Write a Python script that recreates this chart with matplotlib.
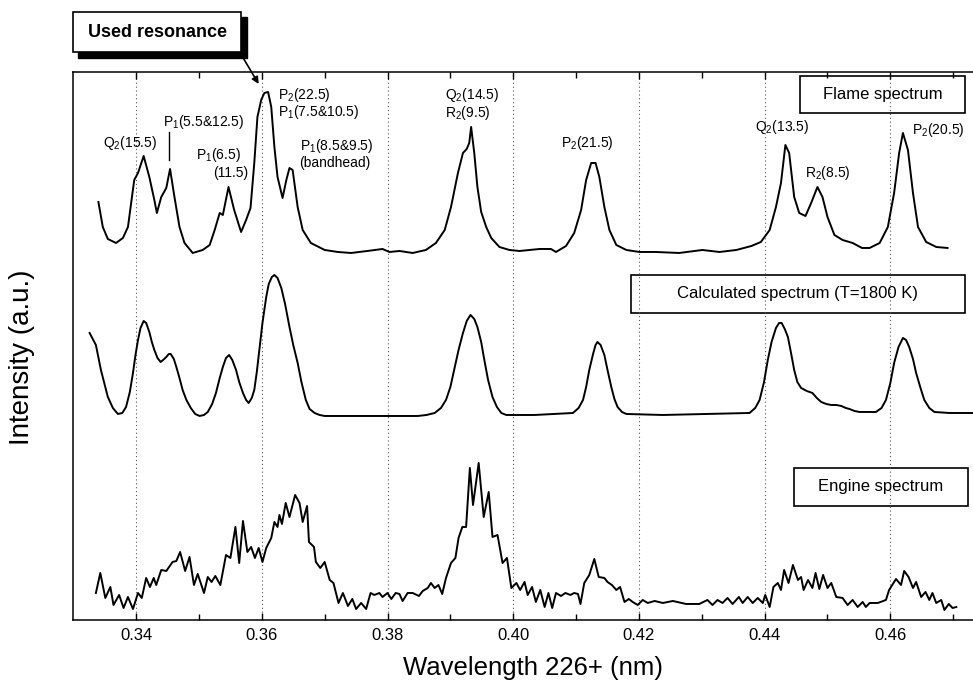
import matplotlib
matplotlib.use("Agg")
import matplotlib.pyplot as plt
import matplotlib.patches as patches

plt.rcParams['font.family'] = ['Liberation Sans', 'DejaVu Sans']
plt.rcParams['mathtext.fontset'] = 'custom'
plt.rcParams['mathtext.rm'] = 'Liberation Sans'
plt.rcParams['mathtext.it'] = 'Liberation Sans'

# Wavelength offsets (nm above 226 nm) and intensities (a.u., stacked)
flame_wl = [0.3340, 0.3347, 0.3355, 0.3368, 0.3379, 0.3387, 0.3397, 0.3403, 0.3412, 0.3421,
            0.3429, 0.3433, 0.3440, 0.3448, 0.3454, 0.3461, 0.3469, 0.3477, 0.3490, 0.3506,
            0.3517, 0.3525, 0.3533, 0.3538, 0.3547, 0.3556, 0.3567, 0.3575, 0.3582, 0.3588,
            0.3593, 0.3599, 0.3604, 0.3610, 0.3615, 0.3620, 0.3625, 0.3633, 0.3639, 0.3644,
            0.3649, 0.3657, 0.3665, 0.3678, 0.3700, 0.3721, 0.3742, 0.3768, 0.3792, 0.3803,
            0.3819, 0.3840, 0.3861, 0.3877, 0.3891, 0.3901, 0.3912, 0.3920, 0.3926, 0.3930,
            0.3933, 0.3938, 0.3943, 0.3949, 0.3957, 0.3965, 0.3978, 0.3994, 0.4010, 0.4042,
            0.4060, 0.4068, 0.4084, 0.4097, 0.4108, 0.4116, 0.4124, 0.4131, 0.4137, 0.4145,
            0.4153, 0.4164, 0.4180, 0.4201, 0.4227, 0.4264, 0.4301, 0.4328, 0.4355, 0.4379,
            0.4394, 0.4408, 0.4418, 0.4426, 0.4433, 0.4439, 0.4447, 0.4455, 0.4465, 0.4474,
            0.4484, 0.4492, 0.4500, 0.4511, 0.4524, 0.4540, 0.4555, 0.4567, 0.4583, 0.4596,
            0.4606, 0.4614, 0.4620, 0.4628, 0.4636, 0.4644, 0.4657, 0.4673, 0.4691]
flame_int = [418, 393, 381, 377, 382, 393, 440, 447, 464, 443,
             420, 407, 423, 432, 451, 423, 393, 377, 367, 370,
             375, 390, 407, 405, 433, 410, 388, 400, 412, 457,
             503, 520, 527, 528, 513, 473, 443, 422, 440, 452,
             450, 413, 390, 377, 370, 368, 367, 369, 371, 368,
             369, 367, 370, 377, 390, 413, 447, 467, 471, 477,
             493, 467, 433, 408, 393, 382, 373, 370, 369, 371,
             371, 368, 374, 387, 410, 440, 457, 457, 443, 413,
             390, 375, 370, 368, 368, 367, 370, 368, 370, 374,
             378, 390, 413, 437, 475, 467, 423, 407, 404, 417,
             433, 423, 403, 385, 380, 377, 372, 372, 377, 393,
             427, 467, 487, 470, 427, 393, 378, 373, 372]

calc_wl = [0.3326, 0.3336, 0.3344, 0.3355, 0.3363, 0.3371, 0.3378, 0.3384, 0.3390, 0.3395,
           0.3399, 0.3403, 0.3407, 0.3412, 0.3416, 0.3421, 0.3425, 0.3429, 0.3434, 0.3439,
           0.3443, 0.3448, 0.3452, 0.3455, 0.3460, 0.3464, 0.3469, 0.3474, 0.3480, 0.3487,
           0.3494, 0.3501, 0.3508, 0.3514, 0.3521, 0.3527, 0.3533, 0.3538, 0.3543, 0.3548,
           0.3553, 0.3559, 0.3564, 0.3570, 0.3575, 0.3579, 0.3584, 0.3588, 0.3592, 0.3596,
           0.3601, 0.3607, 0.3611, 0.3616, 0.3620, 0.3625, 0.3631, 0.3637, 0.3644, 0.3650,
           0.3657, 0.3663, 0.3670, 0.3676, 0.3684, 0.3692, 0.3700, 0.3742, 0.3848, 0.3862,
           0.3875, 0.3885, 0.3893, 0.3900, 0.3906, 0.3913, 0.3920, 0.3926, 0.3932, 0.3938,
           0.3943, 0.3949, 0.3954, 0.3960, 0.3967, 0.3974, 0.3981, 0.3989, 0.3997, 0.4034,
           0.4095, 0.4104, 0.4111, 0.4116, 0.4121, 0.4127, 0.4131, 0.4134, 0.4139, 0.4145,
           0.4150, 0.4156, 0.4161, 0.4166, 0.4173, 0.4180, 0.4238, 0.4376, 0.4385, 0.4392,
           0.4399, 0.4405, 0.4411, 0.4418, 0.4423, 0.4427, 0.4432, 0.4437, 0.4442, 0.4447,
           0.4452, 0.4458, 0.4467, 0.4476, 0.4483, 0.4490, 0.4498, 0.4506, 0.4514, 0.4522,
           0.4529, 0.4535, 0.4543, 0.4551, 0.4565, 0.4577, 0.4586, 0.4593, 0.4600, 0.4606,
           0.4613, 0.4620, 0.4625, 0.4630, 0.4636, 0.4641, 0.4648, 0.4654, 0.4662, 0.4670,
           0.4694, 0.4731]
calc_int = [287, 275, 250, 223, 212, 206, 207, 213, 228, 247,
            265, 280, 292, 299, 297, 288, 278, 270, 262, 258,
            260, 263, 266, 266, 261, 253, 242, 230, 220, 212,
            206, 204, 205, 208, 216, 227, 242, 253, 262, 265,
            260, 250, 238, 227, 220, 217, 222, 230, 248, 270,
            297, 323, 336, 343, 345, 342, 332, 316, 293, 275,
            257, 238, 220, 211, 207, 205, 204, 204, 204, 205,
            207, 212, 220, 233, 250, 270, 287, 299, 305, 301,
            293, 278, 260, 240, 223, 213, 207, 205, 205, 205,
            207, 212, 220, 233, 250, 266, 275, 278, 275, 265,
            250, 233, 221, 213, 208, 206, 205, 207, 212, 220,
            238, 260, 278, 292, 297, 297, 291, 283, 267, 250,
            238, 232, 229, 227, 222, 218, 216, 215, 215, 214,
            212, 211, 209, 208, 208, 208, 212, 220, 237, 257,
            273, 282, 280, 273, 261, 247, 232, 220, 212, 208,
            207, 207]

engine_wl = [0.3336, 0.3343, 0.3351, 0.3359, 0.3364, 0.3373, 0.3380, 0.3387, 0.3395, 0.3403,
             0.3409, 0.3416, 0.3422, 0.3428, 0.3432, 0.3440, 0.3448, 0.3458, 0.3464, 0.3470,
             0.3478, 0.3485, 0.3492, 0.3498, 0.3508, 0.3514, 0.3520, 0.3526, 0.3534, 0.3543,
             0.3550, 0.3558, 0.3564, 0.3570, 0.3577, 0.3583, 0.3589, 0.3595, 0.3601, 0.3607,
             0.3615, 0.3620, 0.3625, 0.3628, 0.3632, 0.3638, 0.3644, 0.3653, 0.3660, 0.3665,
             0.3672, 0.3675, 0.3683, 0.3686, 0.3693, 0.3700, 0.3708, 0.3714, 0.3722, 0.3729,
             0.3737, 0.3744, 0.3750, 0.3758, 0.3766, 0.3773, 0.3779, 0.3787, 0.3792, 0.3800,
             0.3806, 0.3813, 0.3819, 0.3824, 0.3832, 0.3840, 0.3850, 0.3856, 0.3864, 0.3869,
             0.3875, 0.3881, 0.3887, 0.3893, 0.3901, 0.3908, 0.3913, 0.3919, 0.3925, 0.3931,
             0.3936, 0.3945, 0.3953, 0.3961, 0.3967, 0.3975, 0.3983, 0.3990, 0.3997, 0.4005,
             0.4011, 0.4018, 0.4023, 0.4030, 0.4036, 0.4043, 0.4050, 0.4056, 0.4062, 0.4068,
             0.4076, 0.4083, 0.4091, 0.4097, 0.4103, 0.4107, 0.4113, 0.4121, 0.4129, 0.4136,
             0.4145, 0.4150, 0.4157, 0.4164, 0.4170, 0.4177, 0.4184, 0.4190, 0.4198, 0.4206,
             0.4214, 0.4225, 0.4238, 0.4254, 0.4275, 0.4296, 0.4309, 0.4317, 0.4325, 0.4333,
             0.4341, 0.4349, 0.4359, 0.4365, 0.4373, 0.4381, 0.4389, 0.4397, 0.4401, 0.4408,
             0.4414, 0.4421, 0.4426, 0.4431, 0.4438, 0.4445, 0.4453, 0.4458, 0.4462, 0.4469,
             0.4476, 0.4481, 0.4487, 0.4493, 0.4500, 0.4506, 0.4514, 0.4524, 0.4532, 0.4540,
             0.4548, 0.4556, 0.4561, 0.4567, 0.4580, 0.4593, 0.4598, 0.4609, 0.4617, 0.4622,
             0.4629, 0.4636, 0.4641, 0.4649, 0.4656, 0.4662, 0.4667, 0.4673, 0.4681, 0.4686,
             0.4693, 0.4699, 0.4705]
engine_int = [27, 47, 22, 33, 15, 25, 12, 23, 11, 27,
              22, 42, 33, 42, 35, 50, 49, 58, 59, 68,
              49, 63, 35, 46, 27, 43, 38, 44, 35, 65,
              62, 93, 57, 99, 68, 73, 62, 72, 58, 72,
              82, 98, 93, 105, 96, 117, 103, 125, 117, 98,
              114, 78, 73, 58, 52, 58, 40, 37, 17, 27,
              14, 21, 11, 17, 11, 27, 25, 27, 23, 27,
              21, 27, 26, 19, 27, 27, 24, 29, 32, 37,
              32, 35, 26, 42, 57, 62, 82, 93, 93, 152,
              115, 157, 103, 128, 83, 85, 57, 62, 32, 37,
              30, 38, 25, 33, 18, 30, 13, 27, 12, 27,
              24, 27, 25, 27, 26, 16, 37, 45, 61, 43,
              42, 38, 35, 30, 33, 18, 21, 18, 15, 20,
              17, 19, 17, 19, 16, 16, 20, 15, 20, 17,
              22, 16, 23, 17, 23, 17, 22, 17, 25, 13,
              33, 37, 30, 50, 37, 55, 40, 43, 30, 40,
              32, 47, 31, 45, 32, 37, 23, 22, 15, 20,
              13, 18, 13, 17, 17, 20, 30, 41, 35, 49,
              43, 32, 38, 23, 28, 20, 27, 17, 20, 10,
              16, 12, 13]

major_ticks = [0.34, 0.36, 0.38, 0.40, 0.42, 0.44, 0.46]
minor_ticks = [0.35, 0.37, 0.39, 0.41, 0.43, 0.45, 0.47]

# line assignments: (label, wavelength, intensity, horizontal alignment)
peak_labels = [
    (r"Q$_2$(15.5)", 0.3391, 477, 'center'),
    (r"P$_1$(5.5&12.5)", 0.3442, 498, 'left'),
    (r"P$_1$(6.5)", 0.3531, 465, 'center'),
    ("(11.5)", 0.3551, 447, 'center'),
    (r"P$_2$(22.5)", 0.3625, 525, 'left'),
    (r"P$_1$(7.5&10.5)", 0.3625, 508, 'left'),
    (r"P$_1$(8.5&9.5)", 0.3660, 474, 'left'),
    ("(bandhead)", 0.3660, 457, 'left'),
    (r"Q$_2$(14.5)", 0.3892, 525, 'left'),
    (r"R$_2$(9.5)", 0.3892, 507, 'left'),
    (r"P$_2$(21.5)", 0.4118, 477, 'center'),
    (r"Q$_2$(13.5)", 0.4427, 493, 'center'),
    (r"R$_2$(8.5)", 0.4500, 447, 'center'),
    (r"P$_2$(20.5)", 0.4676, 490, 'center'),
]

fig = plt.figure(figsize=(9.73, 6.81), dpi=100)
ax = fig.add_axes([0.0753, 0.0896, 0.9247, 0.8047])

for wl, inten in [(flame_wl, flame_int), (calc_wl, calc_int), (engine_wl, engine_int)]:
    ax.plot(wl, inten, color='black', linewidth=1.4, solid_joinstyle='round')

ax.set_xlim(0.33, 0.47315)
ax.set_ylim(0, 548)
ax.set_xticks(major_ticks)
ax.set_xticklabels([f"{t:.2f}" for t in major_ticks])
ax.set_xticks(minor_ticks, minor=True)
ax.set_yticks([])
ax.tick_params(axis='x', which='major', direction='in', length=5, width=1,
               top=True, labelsize=12, pad=6)
ax.tick_params(axis='x', which='minor', direction='in', length=4, width=1, top=True)
ax.spines['right'].set_visible(False)
for side in ['left', 'top', 'bottom']:
    ax.spines[side].set_linewidth(1.1)
ax.grid(True, axis='x', which='major', color='#555555', linestyle=(0, (1, 2.5)), linewidth=0.8)

for text, x, y, ha in peak_labels:
    ax.text(x, y, text, fontsize=10, ha=ha, va='center')
ax.plot([0.3453, 0.3453], [460, 488], color='black', linewidth=1.0)

# spectrum name boxes
name_boxes = [
    ("Flame spectrum", 0.4457, 507, 0.0262, 37),
    ("Calculated spectrum (T=1800 K)", 0.4188, 307, 0.0530, 38),
    ("Engine spectrum", 0.4446, 114, 0.0277, 38),
]
for text, x0, y0, w, h in name_boxes:
    ax.add_patch(patches.Rectangle((x0, y0), w, h, fill=False, edgecolor='black',
                                   linewidth=1.2, clip_on=False))
    ax.text(x0 + w / 2, y0 + h / 2, text, fontsize=12, ha='center', va='center')

# "Used resonance" callout with drop shadow
fig.add_artist(patches.Rectangle((0.0802, 0.9148), 0.1737, 0.0602, transform=fig.transFigure,
                                 facecolor='black', edgecolor='black'))
fig.add_artist(patches.Rectangle((0.0750, 0.9236), 0.1727, 0.0588, transform=fig.transFigure,
                                 facecolor='white', edgecolor='black', linewidth=1.2))
fig.text(0.1614, 0.953, "Used resonance", fontsize=13, fontweight='bold',
         ha='center', va='center')
ax.annotate("", xy=(0.3595, 536), xycoords='data',
            xytext=(0.2487, 0.9178), textcoords='figure fraction',
            arrowprops=dict(arrowstyle='-|>', color='black', lw=1.2,
                            mutation_scale=10, shrinkA=0, shrinkB=0))

fig.text(0.5478, 0.0191, "Wavelength 226+ (nm)", fontsize=18.5, ha='center', va='center')
fig.text(0.0226, 0.4758, "Intensity (a.u.)", fontsize=20, ha='center', va='center',
         rotation=90)

fig.savefig("out.png", dpi=100)
